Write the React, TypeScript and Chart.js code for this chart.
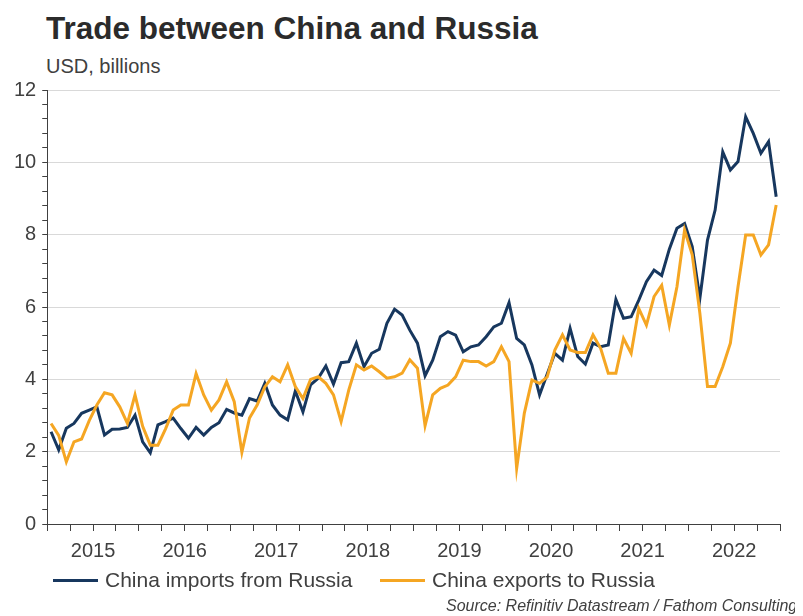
import React, { useEffect, useRef } from 'react';
import { Chart, registerables } from 'chart.js';

Chart.register(...registerables);

// Year labels (placed mid-year under the quarterly tick marks)
const yearLabels = ['2015', '2016', '2017', '2018', '2019', '2020', '2021', '2022'];

// Monthly values, Jan 2015 – Dec 2022, USD billions
const importsFromRussia = [
  2.55, 2.05, 2.65, 2.78, 3.06, 3.15, 3.24, 2.46, 2.62, 2.63, 2.67, 3.01,
  2.27, 1.97, 2.74, 2.83, 2.93, 2.64, 2.37, 2.67, 2.46, 2.67, 2.80, 3.17,
  3.07, 3.01, 3.47, 3.40, 3.89, 3.29, 3.01, 2.88, 3.68, 3.10, 3.85, 4.03,
  4.37, 3.87, 4.46, 4.49, 5.00, 4.35, 4.72, 4.83, 5.55, 5.94, 5.78, 5.36,
  5.00, 4.10, 4.53, 5.18, 5.32, 5.22, 4.76, 4.90, 4.95, 5.18, 5.45, 5.55,
  6.12, 5.13, 4.95, 4.40, 3.57, 4.15, 4.72, 4.53, 5.41, 4.63, 4.42, 5.00,
  4.90, 4.95, 6.21, 5.69, 5.73, 6.19, 6.70, 7.02, 6.87, 7.60, 8.18, 8.31,
  7.67, 6.24, 7.85, 8.68, 10.29, 9.79, 10.02, 11.26, 10.80, 10.25, 10.57, 9.05,
];

const exportsToRussia = [
  2.78, 2.45, 1.72, 2.27, 2.35, 2.86, 3.29, 3.63, 3.57, 3.24, 2.78, 3.57,
  2.70, 2.18, 2.18, 2.63, 3.15, 3.29, 3.29, 4.16, 3.57, 3.15, 3.43, 3.93,
  3.38, 1.98, 2.93, 3.29, 3.79, 4.07, 3.93, 4.40, 3.80, 3.47, 4.00, 4.07,
  3.89, 3.57, 2.83, 3.70, 4.40, 4.26, 4.37, 4.21, 4.03, 4.07, 4.17, 4.54,
  4.31, 2.72, 3.57, 3.75, 3.84, 4.07, 4.53, 4.49, 4.49, 4.37, 4.49, 4.90,
  4.49, 1.54, 3.06, 3.98, 3.89, 4.07, 4.81, 5.23, 4.81, 4.74, 4.74, 5.23,
  4.86, 4.17, 4.17, 5.13, 4.72, 5.96, 5.50, 6.29, 6.60, 5.50, 6.56, 8.13,
  7.44, 5.83, 3.80, 3.80, 4.35, 5.00, 6.56, 7.99, 7.99, 7.44, 7.72, 8.82,
];

const yTickLabels = [0, 2, 4, 6, 8, 10, 12];

const seriesNames = ['China imports from Russia', 'China exports to Russia'];
const BLUE = '#17375e';
const ORANGE = '#f5a623';
const FONT = "'Liberation Sans', Arial, Helvetica, sans-serif";
const TEXT = '#404040';

const isMajorY = (v: number) => yTickLabels.some((t) => Math.abs(t - v) < 1e-6);

export default function App() {
  const ref = useRef<HTMLCanvasElement>(null);

  useEffect(() => {
    document.documentElement.style.overflow = 'hidden';
    const canvas = ref.current;
    if (!canvas) return;
    const chart = new Chart(canvas, {
      type: 'line',
      data: {
        datasets: [
          {
            label: seriesNames[0],
            data: importsFromRussia.map((y, i) => ({ x: i, y })),
            borderColor: BLUE,
            backgroundColor: BLUE,
            borderWidth: 3,
            pointRadius: 0,
            tension: 0,
            order: 1,
          },
          {
            label: seriesNames[1],
            data: exportsToRussia.map((y, i) => ({ x: i, y })),
            borderColor: ORANGE,
            backgroundColor: ORANGE,
            borderWidth: 3,
            pointRadius: 0,
            tension: 0,
            order: 0,
          },
        ],
      },
      options: {
        responsive: false,
        animation: false,
        devicePixelRatio: 1,
        layout: { padding: { left: 0, right: 18, top: 0, bottom: 1 } },
        plugins: {
          legend: { display: false },
          tooltip: { enabled: false },
        },
        scales: {
          x: {
            type: 'linear',
            min: -0.5,
            max: 95.5,
            afterBuildTicks: (s: any) => {
              s.ticks = Array.from({ length: 33 }, (_, j) => ({ value: -0.5 + 3 * j }));
            },
            ticks: {
              autoSkip: false,
              maxRotation: 0,
              padding: 8,
              color: TEXT,
              font: { family: FONT, size: 20 },
              callback: (_v: any, i: number) => (i % 4 === 2 ? yearLabels[(i - 2) / 4] : ''),
            },
            grid: { drawOnChartArea: false, drawTicks: true, tickLength: 7, tickColor: TEXT },
            border: { display: true, color: TEXT, width: 1 },
          },
          y: {
            min: 0,
            max: 12,
            afterBuildTicks: (s: any) => {
              s.ticks = Array.from({ length: 31 }, (_, k) => ({ value: Math.round(k * 4) / 10 }));
            },
            ticks: {
              autoSkip: false,
              padding: 6,
              color: TEXT,
              font: { family: FONT, size: 20 },
              callback: (v: any) => (isMajorY(Number(v)) ? String(Math.round(Number(v))) : ''),
            },
            grid: {
              color: (c: any) => (c.tick && isMajorY(c.tick.value) ? '#d9d9d9' : 'rgba(0,0,0,0)'),
              tickColor: TEXT,
              tickLength: 5,
              lineWidth: 1,
            },
            border: { display: true, color: TEXT, width: 1 },
          },
        },
      },
    });
    return () => chart.destroy();
  }, []);

  const colors = [BLUE, ORANGE];
  const legendLeft = [45, 372];

  return (
    <div style={{ position: 'relative', width: 795, height: 608, fontFamily: FONT, color: TEXT }}>
      <div
        style={{
          position: 'absolute',
          left: 38,
          top: 5,
          fontSize: 31.5,
          lineHeight: '31px',
          fontWeight: 700,
          color: '#2b2b2b',
          whiteSpace: 'nowrap',
        }}
      >
        Trade between China and Russia
      </div>
      <div style={{ position: 'absolute', left: 38, top: 48, fontSize: 20, lineHeight: '20px', whiteSpace: 'nowrap' }}>
        USD, billions
      </div>
      <canvas ref={ref} width={790} height={500} style={{ position: 'absolute', left: 0, top: 64 }} />
      {seriesNames.map((name, i) => (
        <div
          key={name}
          style={{
            position: 'absolute',
            left: legendLeft[i],
            top: 560,
            height: 24,
            display: 'flex',
            alignItems: 'center',
            whiteSpace: 'nowrap',
          }}
        >
          <span style={{ display: 'inline-block', width: 45, height: 3, background: colors[i], marginRight: 7 }} />
          <span style={{ fontSize: 21, lineHeight: '24px' }}>{name}</span>
        </div>
      ))}
      <div
        style={{
          position: 'absolute',
          left: 438,
          top: 589,
          fontSize: 16,
          lineHeight: '18px',
          fontStyle: 'italic',
          whiteSpace: 'nowrap',
        }}
      >
        Source: Refinitiv Datastream / Fathom Consulting
      </div>
    </div>
  );
}
